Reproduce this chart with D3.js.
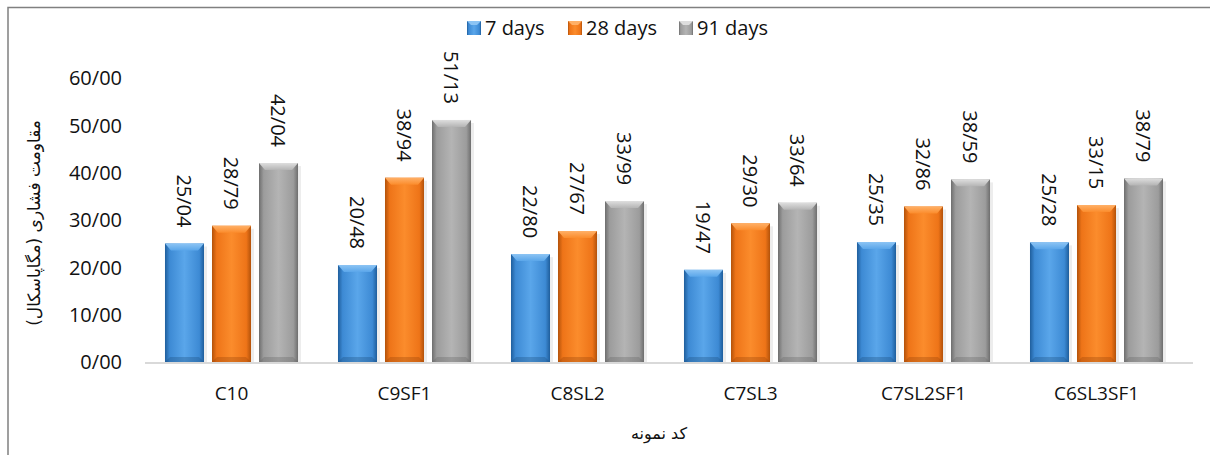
<!DOCTYPE html>
<html>
<head>
<meta charset="utf-8">
<script src="https://cdn.jsdelivr.net/npm/d3@7"></script>
<style>
  body { margin: 0; background: #fff; }
  text { font-family: "Open Sans", sans-serif; fill: #111; }
  .fa { font-family: "DejaVu Sans", sans-serif; }
</style>
</head>
<body>
<svg id="chart" width="1210" height="455"></svg>
<script>
// Chart data
var categories = ["C10", "C9SF1", "C8SL2", "C7SL3", "C7SL2SF1", "C6SL3SF1"];
var seriesNames = ["7 days", "28 days", "91 days"];
var days7 = [25.04, 20.48, 22.80, 19.47, 25.35, 25.28];
var days28 = [28.79, 38.94, 27.67, 29.30, 32.86, 33.15];
var days91 = [42.04, 51.13, 33.99, 33.64, 38.59, 38.79];
var yTicks = [0, 10, 20, 30, 40, 50, 60];
var yTitle = "مقاومت فشاری (مگاپاسکال)";
var xTitle = "کد نمونه";

var seriesValues = [days7, days28, days91];
var palette = [
  {light: "#5aa6ea", mid: "#3d8ad4", dark: "#1f5e9c", top: "#8cc4f4", bottom: "#1d4f82"},
  {light: "#fb8c2c", mid: "#ee7418", dark: "#b3520a", top: "#ffb067", bottom: "#9a4608"},
  {light: "#b4b4b4", mid: "#9c9c9c", dark: "#6e6e6e", top: "#dedede", bottom: "#666666"}
];

var svg = d3.select("#chart");
var margin = {top: 78, left: 145, right: 27, bottom: 93};
var width = 1210, height = 455;

// Format numbers with "/" as decimal mark
function fmt(v) { return d3.format(".2f")(v).replace(".", "/"); }

var x0 = d3.scaleBand()
           .domain(categories)
           .range([margin.left, width - margin.right])
           .paddingInner(0.231)
           .paddingOuter(0.1155);

var x1 = d3.scaleBand()
           .domain(seriesNames)
           .range([0, x0.bandwidth()])
           .paddingInner(0.17);

var y = d3.scaleLinear()
          .domain([0, 60])
          .range([height - margin.bottom, margin.top]);

// Gradients for bar bodies and top bevels
var defs = svg.append("defs");
palette.forEach(function(c, i) {
  var g = defs.append("linearGradient")
              .attr("id", "grad" + i)
              .attr("x1", "0").attr("x2", "1").attr("y1", "0").attr("y2", "0");
  g.append("stop").attr("offset", "0%").attr("stop-color", c.dark);
  g.append("stop").attr("offset", "12%").attr("stop-color", c.mid);
  g.append("stop").attr("offset", "50%").attr("stop-color", c.light);
  g.append("stop").attr("offset", "88%").attr("stop-color", c.mid);
  g.append("stop").attr("offset", "100%").attr("stop-color", c.dark);

  var t = defs.append("linearGradient")
              .attr("id", "top" + i)
              .attr("x1", "0").attr("x2", "0").attr("y1", "0").attr("y2", "1");
  t.append("stop").attr("offset", "0%").attr("stop-color", c.top);
  t.append("stop").attr("offset", "100%").attr("stop-color", c.light);
});

// Outer frame (only top and left edges are visible)
svg.append("path")
   .attr("d", "M8,455 L8,7.5 L1210,7.5")
   .attr("fill", "none")
   .attr("stroke", "#808080")
   .attr("stroke-width", 1.5);

// Baseline
svg.append("line")
   .attr("x1", margin.left).attr("x2", width - margin.right + 10)
   .attr("y1", y(0) + 1).attr("y2", y(0) + 1)
   .attr("stroke", "#d9d9d9")
   .attr("stroke-width", 2);

// Y-axis tick labels
svg.append("g")
   .selectAll("text")
   .data(yTicks)
   .enter()
   .append("text")
   .attr("x", 122)
   .attr("y", function(d) { return y(d); })
   .attr("dy", "0.36em")
   .attr("text-anchor", "end")
   .style("font-size", "20px")
   .text(fmt);

// Category labels
svg.append("g")
   .selectAll("text")
   .data(categories)
   .enter()
   .append("text")
   .attr("x", function(d) { return x0(d) + x0.bandwidth() / 2; })
   .attr("y", 400)
   .attr("text-anchor", "middle")
   .style("font-size", "19px")
   .text(function(d) { return d; });

// Bars
var rows = [];
categories.forEach(function(cat, ci) {
  seriesNames.forEach(function(s, si) {
    rows.push({cat: cat, series: s, si: si, value: seriesValues[si][ci]});
  });
});

var bars = svg.append("g")
              .selectAll("g")
              .data(rows)
              .enter()
              .append("g");

// soft shadow
bars.append("rect")
    .attr("x", function(d) { return x0(d.cat) + x1(d.series) + 3; })
    .attr("y", function(d) { return y(d.value) + 3; })
    .attr("width", x1.bandwidth())
    .attr("height", function(d) { return y(0) - y(d.value) - 3; })
    .attr("fill", "#000")
    .attr("opacity", 0.07);

bars.append("rect")
    .attr("x", function(d) { return x0(d.cat) + x1(d.series); })
    .attr("y", function(d) { return y(d.value); })
    .attr("width", x1.bandwidth())
    .attr("height", function(d) { return y(0) - y(d.value); })
    .attr("fill", function(d) { return "url(#grad" + d.si + ")"; });

// Top bevel
bars.append("path")
    .attr("d", function(d) {
      var a = x0(d.cat) + x1(d.series), b = a + x1.bandwidth(), t = y(d.value);
      return "M" + a + "," + t + "L" + b + "," + t + "L" + (b - 6) + "," + (t + 7) + "L" + (a + 6) + "," + (t + 7) + "Z";
    })
    .attr("fill", function(d) { return "url(#top" + d.si + ")"; });

// Bottom bevel
bars.append("path")
    .attr("d", function(d) {
      var a = x0(d.cat) + x1(d.series), b = a + x1.bandwidth(), t = y(0);
      return "M" + a + "," + t + "L" + b + "," + t + "L" + (b - 5) + "," + (t - 5) + "L" + (a + 5) + "," + (t - 5) + "Z";
    })
    .attr("fill", function(d) { return palette[d.si].bottom; })
    .attr("opacity", 0.35);

// Value labels, rotated to read downwards
bars.append("text")
    .attr("transform", function(d) {
      var cx = x0(d.cat) + x1(d.series) + x1.bandwidth() / 2;
      return "translate(" + cx + "," + (y(d.value) - 16) + ") rotate(90)";
    })
    .attr("text-anchor", "end")
    .attr("dy", "0.36em")
    .style("font-size", "20px")
    .text(function(d) { return fmt(d.value); });

// Legend
var legendX = [467, 568, 679];
var legend = svg.append("g")
                .selectAll("g")
                .data(seriesNames)
                .enter()
                .append("g")
                .attr("transform", function(d, i) { return "translate(" + legendX[i] + ",21)"; });

legend.append("rect")
      .attr("width", 14)
      .attr("height", 14)
      .attr("fill", function(d, i) { return "url(#grad" + i + ")"; });

legend.append("path")
      .attr("d", "M0,0L14,0L10,4L4,4Z")
      .attr("fill", function(d, i) { return palette[i].top; });

legend.append("text")
      .attr("x", 18)
      .attr("y", 14)
      .style("font-size", "20px")
      .text(function(d) { return d; });

// Axis titles
svg.append("text")
   .classed("fa", true)
   .attr("transform", "translate(34," + ((margin.top + y(0)) / 2 + 3) + ") rotate(-90)")
   .attr("text-anchor", "middle")
   .attr("dy", "0.35em")
   .attr("direction", "rtl")
   .style("font-size", "17px")
   .text(yTitle);

svg.append("text")
   .classed("fa", true)
   .attr("x", 659)
   .attr("y", 439)
   .attr("text-anchor", "middle")
   .attr("direction", "rtl")
   .style("font-size", "16px")
   .text(xTitle);
</script>
</body>
</html>
